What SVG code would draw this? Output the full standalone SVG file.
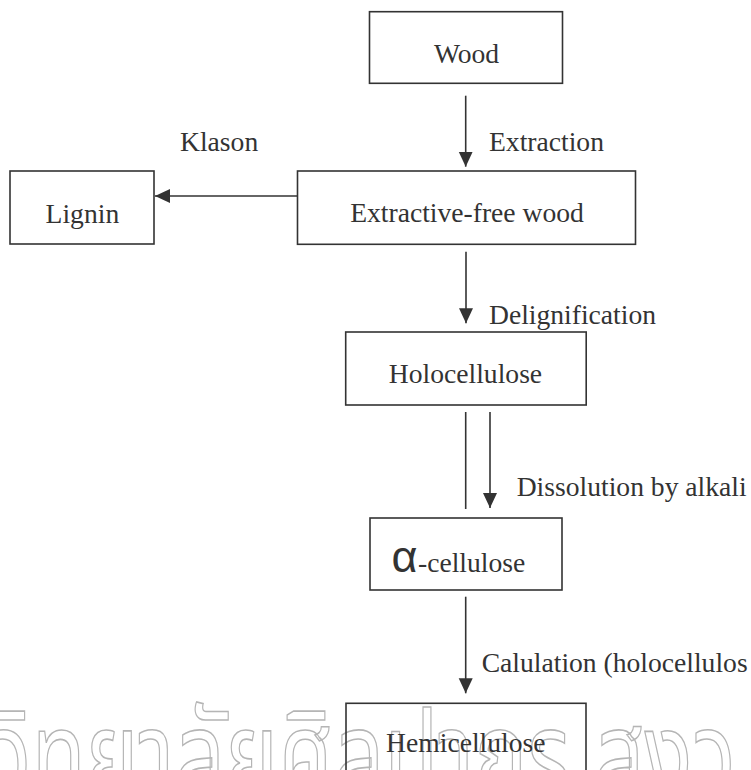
<svg xmlns="http://www.w3.org/2000/svg" width="751" height="770" viewBox="0 0 751 770">
<defs>
<style>
.box{fill:none;stroke:#333;stroke-width:1.6}
.lbl{font-family:"Liberation Serif","Times New Roman",serif;font-size:27.6px;fill:#333}
.mid{text-anchor:middle}
.ln{stroke:#333;stroke-width:1.6;fill:none}
.wm{font-family:"Noto Sans Thai","Noto Sans","DejaVu Sans",sans-serif;font-size:100px;fill:none;stroke:#b5b5b5;stroke-width:1.3}
</style>
<marker id="ah" markerUnits="userSpaceOnUse" markerWidth="16" markerHeight="16" refX="15" refY="7" orient="auto">
<path d="M0,0 L15,7 L0,14 z" fill="#333"/>
</marker>
</defs>
<rect width="751" height="770" fill="#fff"/>
<g id="watermark">
<text class="wm" x="-12" y="640" transform="scale(1,1.25)" textLength="748" lengthAdjust="spacingAndGlyphs">วิทยาลัยศิลปากร สงว</text>
</g>
<g id="connectors">
<line class="ln" x1="465.7" y1="95.7" x2="465.7" y2="166.7" marker-end="url(#ah)"/>
<line class="ln" x1="297.5" y1="196" x2="155" y2="196" marker-end="url(#ah)"/>
<line class="ln" x1="466" y1="251.7" x2="466" y2="323.3" marker-end="url(#ah)"/>
<line class="ln" x1="465.7" y1="412" x2="465.7" y2="509"/>
<line class="ln" x1="490" y1="412" x2="490" y2="508" marker-end="url(#ah)"/>
<line class="ln" x1="465.7" y1="596.7" x2="465.7" y2="693.3" marker-end="url(#ah)"/>
<text class="lbl" x="489" y="151">Extraction</text>
<text class="lbl" x="180" y="151">Klason</text>
<text class="lbl" x="489" y="324">Delignification</text>
<text class="lbl" x="516.7" y="496">Dissolution by alkali</text>
<text class="lbl" x="481.7" y="672">Calulation (holocellulos</text>
</g>
<g id="wood">
<rect class="box" x="369.5" y="11.7" width="193" height="71.6"/>
<text class="lbl mid" x="466.5" y="63">Wood</text>
</g>
<g id="lignin">
<rect class="box" x="10" y="171" width="144" height="73"/>
<text class="lbl mid" x="82.4" y="223">Lignin</text>
</g>
<g id="extractive-free-wood">
<rect class="box" x="297.5" y="171" width="338" height="73.3"/>
<text class="lbl mid" x="467" y="222">Extractive-free wood</text>
</g>
<g id="holocellulose">
<rect class="box" x="345.7" y="332" width="240.5" height="73"/>
<text class="lbl mid" x="465.5" y="383">Holocellulose</text>
</g>
<g id="alpha-cellulose">
<rect class="box" x="370" y="518" width="192" height="72"/>
<text class="lbl" y="572"><tspan x="391.5" style="font-family:'Liberation Sans',Arial,sans-serif;font-size:45px">α</tspan><tspan x="418">-cellulose</tspan></text>
</g>
<g id="hemicellulose">
<rect class="box" x="346" y="703.3" width="240" height="80"/>
<text class="lbl mid" x="465.8" y="752">Hemicellulose</text>
</g>
</svg>
